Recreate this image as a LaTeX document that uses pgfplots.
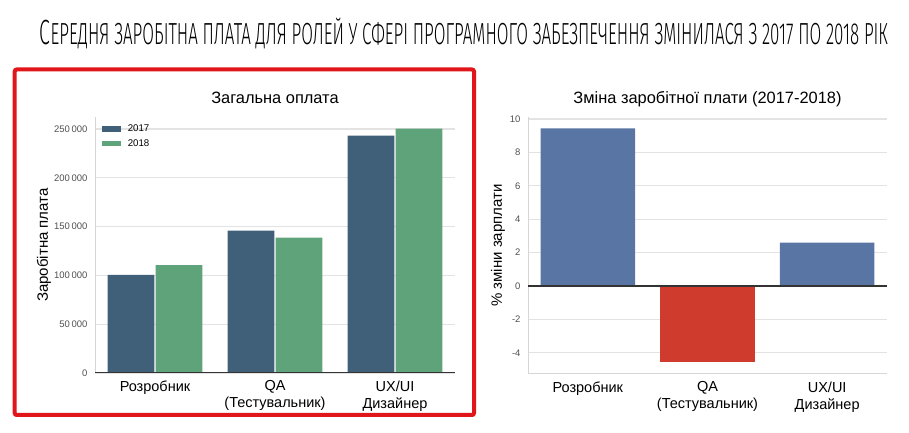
\documentclass[border=0pt]{standalone}
\usepackage{pgfplots}
\pgfplotsset{compat=1.18}
\usepackage{fontspec}
\setmainfont{Liberation Sans}
\IfFontExistsTF{Fira Sans Light}
  {\newfontfamily\titlefont{Fira Sans Light}}
  {\newfontfamily\titlefont{Liberation Sans}}
\usepackage{graphicx}

\definecolor{c2017}{HTML}{40607A}
\definecolor{c2018}{HTML}{5FA37A}
\definecolor{cblue}{HTML}{5875A4}
\definecolor{cred}{HTML}{CF3B2C}
\definecolor{gridc}{HTML}{E3E3E3}
\definecolor{spine}{HTML}{D6D6D6}
\definecolor{tickc}{HTML}{505050}
\definecolor{frame}{HTML}{E0161A}

\pgfplotsset{
  barchart/.style={
    scale only axis,
    width=360pt, height=256pt,
    ybar,
    enlargelimits=false,
    xmin=-0.5, xmax=2.5,
    xtick={0,1,2},
    xticklabels={Розробник, {QA\\(Тестувальник)}, {UX/UI\\Дизайнер}},
    xticklabel style={align=center, font=\fontsize{14.5}{17}\selectfont, yshift=-4pt},
    yticklabel style={font=\fontsize{9.5}{11}\selectfont, color=tickc, xshift=-4pt},
    /pgf/number format/assume math mode=true,
    /pgf/number format/fixed,
    major tick length=0pt,
    ymajorgrids,
    major grid style={gridc, line width=1.1pt},
    axis line style={draw=none},
    title style={at={(0.5,1)}, anchor=base, yshift=7pt, font=\fontsize{16.4}{19}\selectfont},
    ylabel style={anchor=center, font=\fontsize{15}{18}\selectfont},
  },
}

\begin{document}
\begin{tikzpicture}[x=1pt,y=1pt]
\useasboundingbox (0,0) rectangle (909,433);

% main title
\node[anchor=base] at (464,388)
  {\resizebox{848pt}{\height}{\titlefont\fontsize{30.5}{32}\selectfont{\fontsize{35}{36}\selectfont С}\MakeUppercase{ередня заробітна плата для ролей у сфері програмного забезпечення змінилася з 2017 по 2018 рік}}};

% red frame
\draw[frame, line width=4pt, rounded corners=2pt] (14.7,363.5) rectangle (474,18);

% left chart
\begin{axis}[
  barchart,
  at={(95pt,60pt)}, anchor=south west,
  ymin=0, ymax=262300,
  ytick={0,50000,100000,150000,200000,250000},
  scaled y ticks=false,
  /pgf/number format/1000 sep={\,},
  bar width=0.39,
  title={Загальна оплата},
  ylabel={Заробітна плата},
  ylabel style={at={(axis description cs:-0.1417,0.5)}},
  legend style={draw=none, fill=none, at={(axis description cs:0.01,0.985)}, anchor=north west,
    font=\fontsize{9.7}{11}\selectfont, row sep=2pt},
  legend cell align=left,
  legend image code/.code={\fill[#1] (0pt,-2.8pt) rectangle (19pt,2.8pt); \path (24pt,0pt);},
]
\addplot[fill=c2017, draw=none, bar shift=-0.2] coordinates {(0,100600) (1,145800) (2,243200)};
\addplot[fill=c2018, draw=none, bar shift=0.2] coordinates {(0,110400) (1,138700) (2,250300)};
\legend{2017,2018}
\draw[spine, line width=1pt] (rel axis cs:0,0) -- (rel axis cs:0,1);
\draw[black!80, line width=1.5pt] (rel axis cs:0,0) -- (rel axis cs:1,0);
\end{axis}

% right chart
\begin{axis}[
  barchart,
  at={(528pt,59pt)}, anchor=south west,
  width=359pt, height=257pt,
  ymin=-5.27, ymax=10.12,
  ytick={-4,-2,0,2,4,6,8,10},
  bar width=0.79,
  title={Зміна заробітної плати (2017-2018)},
  ylabel={\% зміни зарплати},
  ylabel style={at={(axis description cs:-0.0836,0.5)}},
]
\addplot[fill=cblue, draw=none, bar shift=0] coordinates {(0,9.44) (2,2.59)};
\addplot[fill=cred, draw=none, bar shift=0] coordinates {(1,-4.53)};
\draw[spine, line width=1pt] (rel axis cs:0,0) -- (rel axis cs:0,1);
\draw[spine, line width=1pt] (rel axis cs:0,0) -- (rel axis cs:1,0);
\draw[black!80, line width=1.6pt] (axis cs:-0.5,0) -- (axis cs:2.5,0);
\end{axis}
\end{tikzpicture}
\end{document}
